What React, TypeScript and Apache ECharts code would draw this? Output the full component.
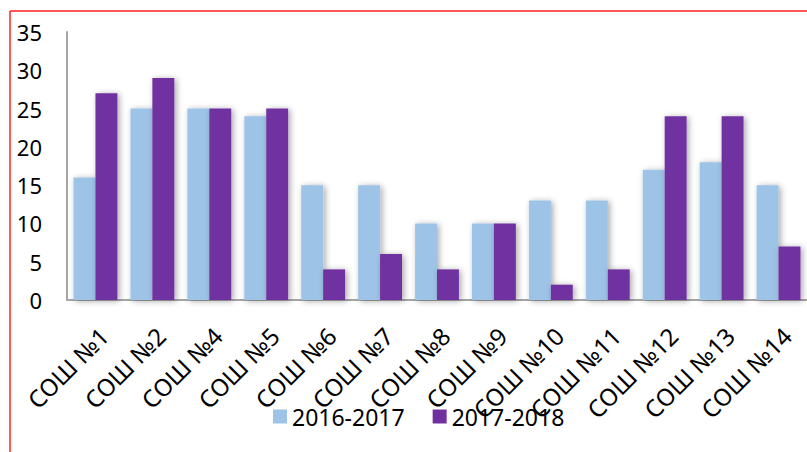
import React, { useEffect, useRef } from "react";
import * as echarts from "echarts";

const categories = ["СОШ №1", "СОШ №2", "СОШ №4", "СОШ №5", "СОШ №6", "СОШ №7", "СОШ №8", "СОШ №9", "СОШ №10", "СОШ №11", "СОШ №12", "СОШ №13", "СОШ №14"];
const series2016 = [16, 25, 25, 24, 15, 15, 10, 10, 13, 13, 17, 18, 15];
const series2017 = [27, 29, 25, 25, 4, 6, 4, 10, 2, 4, 24, 24, 7];
const seriesNames = ["2016-2017", "2017-2018"];

export default function App() {
  const ref = useRef<HTMLDivElement>(null);
  useEffect(() => {
    if (!ref.current) return;
    const chart = echarts.init(ref.current, undefined, { renderer: "svg" });
    const font = "Noto Sans";
    const barShadow = {
      shadowColor: "rgba(0,0,0,0.35)",
      shadowBlur: 6,
      shadowOffsetX: 2,
      shadowOffsetY: 1,
    };
    chart.setOption({
      animation: false,
      backgroundColor: "#ffffff",
      textStyle: { fontFamily: font },
      grid: { left: 67, right: 0, top: 32, height: 268, containLabel: false },
      legend: {
        left: 268,
        top: 400,
        itemWidth: 14,
        itemHeight: 14,
        itemGap: 28,
        icon: "rect",
        textStyle: { fontFamily: font, fontSize: 23, color: "#000" },
        data: seriesNames,
      },
      xAxis: {
        type: "category",
        data: categories,
        axisLine: { show: true, lineStyle: { color: "#a6a6a6", width: 2 } },
        axisTick: { show: false },
        axisLabel: {
          rotate: 45,
          interval: 0,
          margin: 23,
          verticalAlign: "top",
          fontFamily: font,
          fontSize: 24,
          color: "#000",
        },
      },
      yAxis: {
        type: "value",
        min: 0,
        max: 35,
        interval: 5,
        splitLine: { show: false },
        axisLine: { show: true, lineStyle: { color: "#a6a6a6", width: 2 } },
        axisTick: { show: false },
        axisLabel: { margin: 25, fontFamily: font, fontSize: 22, color: "#000" },
      },
      graphic: [
        { type: "line", shape: { x1: 10, y1: 11, x2: 807, y2: 11 }, style: { stroke: "#ff2020", lineWidth: 1.5 } },
        { type: "line", shape: { x1: 10, y1: 11, x2: 10, y2: 452 }, style: { stroke: "#ff2020", lineWidth: 1.5 } },
      ],
      series: [
        {
          name: seriesNames[0],
          type: "bar",
          data: series2016,
          barGap: "0%",
          barCategoryGap: "23%",
          itemStyle: { color: "#9dc3e6", ...barShadow },
        },
        {
          name: seriesNames[1],
          type: "bar",
          data: series2017,
          barGap: "0%",
          barCategoryGap: "23%",
          itemStyle: { color: "#7030a0", ...barShadow },
        },
      ],
    });
    return () => chart.dispose();
  }, []);
  return (
    <div
      ref={ref}
      style={{ position: "absolute", left: 0, top: 0, width: 807, height: 452 }}
    />
  );
}
